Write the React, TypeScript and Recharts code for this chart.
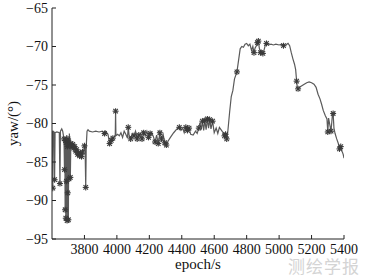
import React from 'react';
import { ComposedChart, Line, Scatter, XAxis, YAxis } from 'recharts';

// yaw trace (epoch in s, yaw in degrees)
const epochs = [
  3600, 3603, 3605, 3607, 3613, 3616, 3619, 3630, 3645, 3649, 3652, 3660, 3666, 3670, 3674, 3677,
  3679, 3681, 3683, 3685, 3687, 3689, 3691, 3693, 3695, 3697, 3699, 3701, 3703, 3705, 3707, 3710,
  3713, 3716, 3722, 3728, 3734, 3740, 3746, 3752, 3758, 3764, 3770, 3776, 3782, 3788, 3795, 3800,
  3804, 3808, 3811, 3816, 3822, 3830, 3850, 3870, 3890, 3910, 3924, 3930, 3945, 3955, 3965, 3975,
  3985, 3990, 3992, 3994, 4005, 4015, 4025, 4035, 4045, 4055, 4065, 4070, 4075, 4085, 4095, 4105,
  4115, 4125, 4135, 4145, 4155, 4165, 4175, 4185, 4195, 4205, 4215, 4225, 4235, 4245, 4255, 4265,
  4275, 4285, 4295, 4305, 4315, 4330, 4350, 4370, 4385, 4395, 4405, 4415, 4425, 4435, 4445, 4455,
  4470, 4485, 4495, 4505, 4512, 4520, 4527, 4535, 4542, 4550, 4558, 4565, 4572, 4580, 4590, 4600,
  4612, 4622, 4632, 4645, 4655, 4663, 4670, 4677, 4684, 4695, 4705, 4715, 4725, 4740, 4750, 4760,
  4770, 4780, 4790, 4800, 4810, 4820, 4830, 4838, 4845, 4852, 4860, 4866, 4872, 4878, 4885, 4892,
  4900, 4908, 4915, 4922, 4935, 4950, 4965, 4980, 5000, 5015, 5027, 5040, 5055, 5065, 5075, 5085,
  5095, 5102, 5108, 5112, 5117, 5125, 5140, 5155, 5170, 5185, 5200, 5215, 5228, 5240, 5252, 5262,
  5272, 5285, 5295, 5300, 5305, 5312, 5320, 5328, 5333, 5338, 5345, 5355, 5365, 5372, 5380, 5388,
  5395, 5400,
];
const yaws = [
  -81.0, -81.1, -88.4, -81.0, -81.1, -87.3, -81.2, -81.1, -81.2, -87.8, -81.0, -80.7, -81.0, -81.5, -82.0, -86.0,
  -81.8, -91.2, -82.2, -92.3, -82.5, -87.5, -81.5, -92.6, -83.0, -89.0, -82.0, -92.5, -82.4, -87.2, -81.3, -82.8,
  -87.0, -82.6, -83.0, -82.7, -83.2, -83.0, -83.6, -83.4, -84.0, -83.8, -84.2, -83.9, -84.3, -83.7, -83.5, -82.9,
  -83.2, -88.3, -83.0, -81.0, -80.8, -81.0, -81.1, -81.0, -81.1, -81.0, -81.3, -81.0, -81.4, -82.6, -82.2, -81.9,
  -81.7, -81.5, -78.4, -81.6, -81.4, -81.6, -81.2, -81.8, -81.0, -81.4, -81.9, -80.5, -81.5, -82.0, -81.3, -81.6,
  -81.0, -82.0, -81.5, -81.3, -82.0, -81.2, -81.6, -81.0, -81.8, -81.3, -81.2, -81.7, -82.4, -81.5, -82.6, -81.2,
  -82.0, -81.4, -82.5, -82.8, -82.3, -81.8, -81.2, -80.7, -80.5, -80.9, -80.6, -81.2, -80.5, -80.9, -80.6, -81.4,
  -81.5, -81.0, -81.3, -80.6, -79.9, -80.8, -79.7, -80.9, -79.6, -80.8, -79.4, -80.6, -79.5, -80.7, -79.7, -81.2,
  -80.6, -81.3, -80.5, -80.9, -81.2, -81.6, -81.4, -82.0, -81.0, -78.5, -76.5, -75.7, -74.2, -73.3, -71.8, -70.3,
  -70.0, -70.1, -69.7, -69.6, -69.9, -69.7, -70.5, -70.0, -70.8, -70.2, -69.9, -69.5, -69.3, -70.2, -70.8, -70.5,
  -70.9, -70.4, -69.8, -69.6, -69.8, -69.7, -69.8, -69.7, -69.8, -69.7, -69.9, -69.8, -69.6, -69.9, -70.8, -71.6,
  -72.3, -73.0, -74.5, -75.3, -75.5, -75.3, -75.1, -74.9, -74.7, -74.6, -74.7, -74.9, -75.3, -76.2, -76.8, -77.5,
  -78.3, -79.0, -79.4, -81.1, -79.3, -80.1, -81.0, -79.0, -78.7, -80.6, -81.3, -82.0, -82.6, -83.3, -83.0, -83.6,
  -84.0, -84.5,
];

// epochs flagged with a star marker
const starEpochs = [
  3605, 3616, 3649, 3674, 3677, 3681, 3683, 3685, 3687, 3689, 3693, 3695, 3697, 3699, 3701, 3703,
  3705, 3710, 3713, 3716, 3722, 3728, 3734, 3740, 3746, 3752, 3758, 3764, 3770, 3776, 3782, 3788,
  3800, 3808, 3924, 3955, 3965, 3975, 3992, 4070, 4085, 4105, 4125, 4135, 4155, 4165, 4195, 4205,
  4235, 4255, 4265, 4275, 4295, 4305, 4385, 4425, 4435, 4445, 4505, 4527, 4542, 4558, 4572, 4590,
  4663, 4670, 4677, 4740, 4845, 4866, 4872, 4885, 4900, 4922, 5027, 5108, 5117, 5300, 5320, 5333,
  5372, 5380,
];

const xTicks = [3800, 4000, 4200, 4400, 4600, 4800, 5000, 5200, 5400];
const yTicks = [-95, -90, -85, -80, -75, -70, -65];

const lineData = epochs.map((e, i) => ({ epoch: e, yaw: yaws[i] }));
const starData = starEpochs.map(e => ({ epoch: e, yaw: yaws[epochs.indexOf(e)] }));

const FONT = '"Liberation Serif", "Times New Roman", serif';

function Star({ cx, cy }: any) {
  const r = 3;
  const d = r * 0.75;
  return (
    <g stroke="#3a3a3a" strokeWidth={1.1}>
      <line x1={cx - r} y1={cy} x2={cx + r} y2={cy} />
      <line x1={cx} y1={cy - r} x2={cx} y2={cy + r} />
      <line x1={cx - d} y1={cy - d} x2={cx + d} y2={cy + d} />
      <line x1={cx - d} y1={cy + d} x2={cx + d} y2={cy - d} />
    </g>
  );
}

const minus = (v: number) => (v < 0 ? `\u2212${Math.abs(v)}` : `${v}`);

function YTick({ x, y, payload }: any) {
  return (
    <g>
      <line x1={x + 4} y1={y} x2={x + 8} y2={y} stroke="#222" />
      <text x={x} y={y} dy="0.35em" textAnchor="end" fontFamily={FONT} fontSize={14} fill="#111">
        {minus(payload.value)}
      </text>
    </g>
  );
}

function XTick({ x, y, payload }: any) {
  return (
    <g>
      <line x1={x} y1={y - 4} x2={x} y2={y - 8} stroke="#222" />
      <text x={x} y={y} dy="0.75em" textAnchor="middle" fontFamily={FONT} fontSize={14} fill="#111">
        {payload.value}
      </text>
    </g>
  );
}

export default function App() {
  return (
    <div style={{ position: 'absolute', left: 0, top: 0, width: 374, height: 279, background: '#fff', overflow: 'hidden' }}>
      <ComposedChart width={374} height={279} margin={{ top: 8, right: 30, bottom: 10, left: 0 }}>
        <XAxis
          dataKey="epoch" type="number" domain={[3600, 5400]} ticks={xTicks} interval={0}
          allowDataOverflow height={30} tickSize={0} tickMargin={4}
          axisLine={{ stroke: '#222' }} tickLine={false} tick={<XTick />}
          label={{ value: 'epoch/s', position: 'insideBottom', offset: 0, fontFamily: FONT, fontSize: 15, fill: '#111' }}
        />
        <YAxis
          dataKey="yaw" type="number" domain={[-95, -65]} ticks={yTicks} interval={0}
          allowDataOverflow width={52} tickSize={0} tickMargin={4}
          axisLine={{ stroke: '#222' }} tickLine={false} tick={<YTick />}
          label={{ value: 'yaw/(°)', angle: -90, position: 'insideLeft', offset: 13, fontFamily: FONT, fontSize: 15, fill: '#111', style: { textAnchor: 'middle' } }}
        />
        <Line
          data={lineData} dataKey="yaw" type="linear" stroke="#5a5a5a" strokeWidth={1.2}
          dot={false} activeDot={false} isAnimationActive={false}
        />
        <Scatter data={starData} dataKey="yaw" shape={<Star />} isAnimationActive={false} />
      </ComposedChart>
      <div
        style={{
          position: 'absolute', left: 288, top: 257, fontSize: 17, color: '#d4d4d4', whiteSpace: 'nowrap',
          fontFamily: '"Noto Sans CJK SC", sans-serif', letterSpacing: 1, lineHeight: 1,
        }}
      >
        测绘学报
      </div>
    </div>
  );
}
